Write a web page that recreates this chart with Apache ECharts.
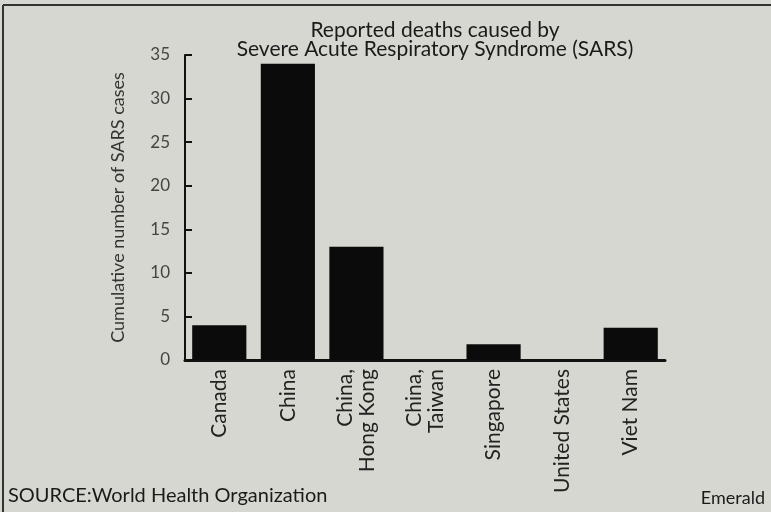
<!DOCTYPE html>
<html>
<head>
<meta charset="utf-8">
<script src="https://cdn.jsdelivr.net/npm/echarts@6/dist/echarts.min.js"></script>
<style>
html, body { margin: 0; padding: 0; background: #d7d7d1; }
#chart { width: 771px; height: 512px; }
</style>
</head>
<body>
<div id="chart"></div>
<script>
let countries = ['Canada', 'China', 'China,\nHong Kong', 'China,\nTaiwan', 'Singapore', 'United States', 'Viet Nam']
let deaths = [4, 34, 13, 0, 1.8, 0, 3.7]
let yTicks = [0, 5, 10, 15, 20, 25, 30, 35]

let font = 'Lato, "Open Sans", sans-serif'
let mychart = echarts.init(document.getElementById('chart'))

let options = {
    backgroundColor: '#d7d7d1',
    animation: false,
    title: {
        text: 'Reported deaths caused by\nSevere Acute Respiratory Syndrome (SARS)',
        left: 430,
        top: 16,
        textAlign: 'center',
        textStyle: {
            fontFamily: font,
            fontSize: 21,
            fontWeight: 'normal',
            color: '#1a1a1a',
            lineHeight: 19
        }
    },
    grid: {
        left: 185,
        right: 106,
        top: 55,
        bottom: 152
    },
    xAxis: {
        type: 'category',
        data: countries,
        axisLine: { lineStyle: { color: '#111', width: 3 } },
        axisTick: { inside: true, length: 6, lineStyle: { color: '#111', width: 2 } },
        axisLabel: {
            rotate: 90,
            margin: 9,
            fontFamily: font,
            fontSize: 21,
            color: '#222',
            lineHeight: 22,
            interval: 0
        }
    },
    yAxis: {
        type: 'value',
        min: 0,
        max: yTicks[yTicks.length - 1],
        interval: 5,
        name: 'Cumulative number of SARS cases',
        nameLocation: 'middle',
        nameGap: 58,
        nameTextStyle: {
            fontFamily: font,
            fontSize: 18,
            color: '#333'
        },
        splitLine: { show: false },
        axisLine: { show: true, lineStyle: { color: '#111', width: 2 } },
        axisTick: { show: true, inside: true, length: 7, lineStyle: { color: '#111', width: 2 } },
        axisLabel: {
            margin: 15,
            fontFamily: font,
            fontSize: 17,
            color: '#444'
        }
    },
    series: [
        {
            type: 'bar',
            data: deaths,
            barCategoryGap: '21%',
            itemStyle: { color: '#0b0b0b' }
        }
    ],
    graphic: [
        {
            type: 'line',
            shape: { x1: 3, y1: 5, x2: 771, y2: 5 },
            style: { stroke: '#333', lineWidth: 2 }
        },
        {
            type: 'line',
            shape: { x1: 3, y1: 5, x2: 3, y2: 512 },
            style: { stroke: '#333', lineWidth: 2 }
        },
        {
            type: 'text',
            left: 8,
            top: 486,
            style: {
                text: 'SOURCE:World Health Organization',
                font: '20px ' + font,
                fill: '#1a1a1a'
            }
        },
        {
            type: 'text',
            right: 6,
            top: 489,
            style: {
                text: 'Emerald',
                font: '18px ' + font,
                fill: '#1a1a1a'
            }
        }
    ]
}

mychart.setOption(options)
window.addEventListener('resize', () => {
    mychart?.resize()
})
</script>
</body>
</html>
